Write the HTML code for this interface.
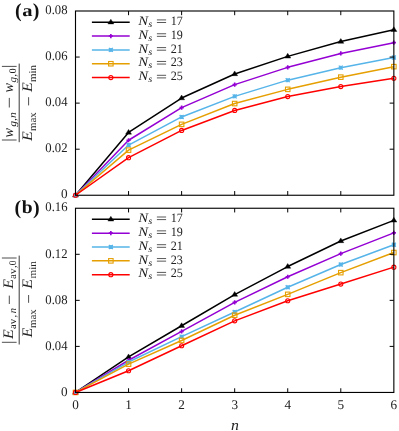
<!DOCTYPE html>
<html><head><meta charset="utf-8"><title>chart</title>
<style>html,body{margin:0;padding:0;background:#fff;}svg{display:block;will-change:transform;transform:translateZ(0);}</style>
</head><body>
<svg width="399" height="431" viewBox="0 0 399 431" font-family="'Liberation Serif', serif" fill="#222222" text-rendering="geometricPrecision">
<rect x="0" y="0" width="399" height="431" fill="#fff"/>
<polyline points="75.50,195.25 128.56,132.45 181.62,98.05 234.68,73.95 287.73,56.35 340.79,41.55 393.85,29.75" fill="none" stroke="#000000" stroke-width="1.5" stroke-linejoin="round"/>
<path d="M75.50,192.25 L78.50,196.95 L72.50,196.95 Z" fill="#000000" stroke="#000000" stroke-width="0.4" stroke-linejoin="round"/>
<path d="M128.56,129.45 L131.56,134.15 L125.56,134.15 Z" fill="#000000" stroke="#000000" stroke-width="0.4" stroke-linejoin="round"/>
<path d="M181.62,95.05 L184.62,99.75 L178.62,99.75 Z" fill="#000000" stroke="#000000" stroke-width="0.4" stroke-linejoin="round"/>
<path d="M234.68,70.95 L237.68,75.65 L231.68,75.65 Z" fill="#000000" stroke="#000000" stroke-width="0.4" stroke-linejoin="round"/>
<path d="M287.73,53.35 L290.73,58.05 L284.73,58.05 Z" fill="#000000" stroke="#000000" stroke-width="0.4" stroke-linejoin="round"/>
<path d="M340.79,38.55 L343.79,43.25 L337.79,43.25 Z" fill="#000000" stroke="#000000" stroke-width="0.4" stroke-linejoin="round"/>
<path d="M393.85,26.75 L396.85,31.45 L390.85,31.45 Z" fill="#000000" stroke="#000000" stroke-width="0.4" stroke-linejoin="round"/>
<polyline points="75.50,195.25 128.56,140.25 181.62,107.65 234.68,84.65 287.73,67.35 340.79,53.45 393.85,42.65" fill="none" stroke="#9400d3" stroke-width="1.5" stroke-linejoin="round"/>
<path d="M75.50,193.15 V197.35 M73.40,195.25 H77.60" stroke="#9400d3" stroke-width="1.6" fill="none"/>
<path d="M128.56,138.15 V142.35 M126.46,140.25 H130.66" stroke="#9400d3" stroke-width="1.6" fill="none"/>
<path d="M181.62,105.55 V109.75 M179.52,107.65 H183.72" stroke="#9400d3" stroke-width="1.6" fill="none"/>
<path d="M234.68,82.55 V86.75 M232.58,84.65 H236.78" stroke="#9400d3" stroke-width="1.6" fill="none"/>
<path d="M287.73,65.25 V69.45 M285.63,67.35 H289.83" stroke="#9400d3" stroke-width="1.6" fill="none"/>
<path d="M340.79,51.35 V55.55 M338.69,53.45 H342.89" stroke="#9400d3" stroke-width="1.6" fill="none"/>
<path d="M393.85,40.55 V44.75 M391.75,42.65 H395.95" stroke="#9400d3" stroke-width="1.6" fill="none"/>
<polyline points="75.50,195.25 128.56,145.05 181.62,116.95 234.68,96.35 287.73,80.15 340.79,67.65 393.85,57.55" fill="none" stroke="#56b4e9" stroke-width="1.5" stroke-linejoin="round"/>
<path d="M73.50,193.25 L77.50,197.25 M73.50,197.25 L77.50,193.25 M73.50,195.25 H77.50 M75.50,193.25 V197.25" stroke="#56b4e9" stroke-width="1.3" fill="none"/>
<path d="M126.56,143.05 L130.56,147.05 M126.56,147.05 L130.56,143.05 M126.56,145.05 H130.56 M128.56,143.05 V147.05" stroke="#56b4e9" stroke-width="1.3" fill="none"/>
<path d="M179.62,114.95 L183.62,118.95 M179.62,118.95 L183.62,114.95 M179.62,116.95 H183.62 M181.62,114.95 V118.95" stroke="#56b4e9" stroke-width="1.3" fill="none"/>
<path d="M232.68,94.35 L236.68,98.35 M232.68,98.35 L236.68,94.35 M232.68,96.35 H236.68 M234.68,94.35 V98.35" stroke="#56b4e9" stroke-width="1.3" fill="none"/>
<path d="M285.73,78.15 L289.73,82.15 M285.73,82.15 L289.73,78.15 M285.73,80.15 H289.73 M287.73,78.15 V82.15" stroke="#56b4e9" stroke-width="1.3" fill="none"/>
<path d="M338.79,65.65 L342.79,69.65 M338.79,69.65 L342.79,65.65 M338.79,67.65 H342.79 M340.79,65.65 V69.65" stroke="#56b4e9" stroke-width="1.3" fill="none"/>
<path d="M391.85,55.55 L395.85,59.55 M391.85,59.55 L395.85,55.55 M391.85,57.55 H395.85 M393.85,55.55 V59.55" stroke="#56b4e9" stroke-width="1.3" fill="none"/>
<polyline points="75.50,195.25 128.56,150.15 181.62,124.35 234.68,103.55 287.73,89.35 340.79,77.15 393.85,66.65" fill="none" stroke="#e69f00" stroke-width="1.5" stroke-linejoin="round"/>
<rect x="126.31" y="147.90" width="4.50" height="4.50" fill="none" stroke="#e69f00" stroke-width="1.1"/>
<rect x="179.37" y="122.10" width="4.50" height="4.50" fill="none" stroke="#e69f00" stroke-width="1.1"/>
<rect x="232.43" y="101.30" width="4.50" height="4.50" fill="none" stroke="#e69f00" stroke-width="1.1"/>
<rect x="285.48" y="87.10" width="4.50" height="4.50" fill="none" stroke="#e69f00" stroke-width="1.1"/>
<rect x="338.54" y="74.90" width="4.50" height="4.50" fill="none" stroke="#e69f00" stroke-width="1.1"/>
<rect x="391.60" y="64.40" width="4.50" height="4.50" fill="none" stroke="#e69f00" stroke-width="1.1"/>
<polyline points="75.50,195.25 128.56,157.65 181.62,130.45 234.68,110.45 287.73,96.55 340.79,86.55 393.85,78.25" fill="none" stroke="#ff0000" stroke-width="1.5" stroke-linejoin="round"/>
<circle cx="75.50" cy="195.25" r="2.05" fill="none" stroke="#ff0000" stroke-width="1.1"/>
<circle cx="128.56" cy="157.65" r="2.05" fill="none" stroke="#ff0000" stroke-width="1.1"/>
<circle cx="181.62" cy="130.45" r="2.05" fill="none" stroke="#ff0000" stroke-width="1.1"/>
<circle cx="234.68" cy="110.45" r="2.05" fill="none" stroke="#ff0000" stroke-width="1.1"/>
<circle cx="287.73" cy="96.55" r="2.05" fill="none" stroke="#ff0000" stroke-width="1.1"/>
<circle cx="340.79" cy="86.55" r="2.05" fill="none" stroke="#ff0000" stroke-width="1.1"/>
<circle cx="393.85" cy="78.25" r="2.05" fill="none" stroke="#ff0000" stroke-width="1.1"/>
<polyline points="75.50,392.45 128.56,356.95 181.62,325.75 234.68,294.55 287.73,266.55 340.79,240.95 393.85,220.35" fill="none" stroke="#000000" stroke-width="1.5" stroke-linejoin="round"/>
<path d="M75.50,389.45 L78.50,394.15 L72.50,394.15 Z" fill="#000000" stroke="#000000" stroke-width="0.4" stroke-linejoin="round"/>
<path d="M128.56,353.95 L131.56,358.65 L125.56,358.65 Z" fill="#000000" stroke="#000000" stroke-width="0.4" stroke-linejoin="round"/>
<path d="M181.62,322.75 L184.62,327.45 L178.62,327.45 Z" fill="#000000" stroke="#000000" stroke-width="0.4" stroke-linejoin="round"/>
<path d="M234.68,291.55 L237.68,296.25 L231.68,296.25 Z" fill="#000000" stroke="#000000" stroke-width="0.4" stroke-linejoin="round"/>
<path d="M287.73,263.55 L290.73,268.25 L284.73,268.25 Z" fill="#000000" stroke="#000000" stroke-width="0.4" stroke-linejoin="round"/>
<path d="M340.79,237.95 L343.79,242.65 L337.79,242.65 Z" fill="#000000" stroke="#000000" stroke-width="0.4" stroke-linejoin="round"/>
<path d="M393.85,217.35 L396.85,222.05 L390.85,222.05 Z" fill="#000000" stroke="#000000" stroke-width="0.4" stroke-linejoin="round"/>
<polyline points="75.50,392.45 128.56,360.25 181.62,331.45 234.68,302.35 287.73,276.75 340.79,253.65 393.85,232.85" fill="none" stroke="#9400d3" stroke-width="1.5" stroke-linejoin="round"/>
<path d="M75.50,390.35 V394.55 M73.40,392.45 H77.60" stroke="#9400d3" stroke-width="1.6" fill="none"/>
<path d="M128.56,358.15 V362.35 M126.46,360.25 H130.66" stroke="#9400d3" stroke-width="1.6" fill="none"/>
<path d="M181.62,329.35 V333.55 M179.52,331.45 H183.72" stroke="#9400d3" stroke-width="1.6" fill="none"/>
<path d="M234.68,300.25 V304.45 M232.58,302.35 H236.78" stroke="#9400d3" stroke-width="1.6" fill="none"/>
<path d="M287.73,274.65 V278.85 M285.63,276.75 H289.83" stroke="#9400d3" stroke-width="1.6" fill="none"/>
<path d="M340.79,251.55 V255.75 M338.69,253.65 H342.89" stroke="#9400d3" stroke-width="1.6" fill="none"/>
<path d="M393.85,230.75 V234.95 M391.75,232.85 H395.95" stroke="#9400d3" stroke-width="1.6" fill="none"/>
<polyline points="75.50,392.45 128.56,362.05 181.62,336.65 234.68,311.95 287.73,287.25 340.79,264.45 393.85,244.75" fill="none" stroke="#56b4e9" stroke-width="1.5" stroke-linejoin="round"/>
<path d="M73.50,390.45 L77.50,394.45 M73.50,394.45 L77.50,390.45 M73.50,392.45 H77.50 M75.50,390.45 V394.45" stroke="#56b4e9" stroke-width="1.3" fill="none"/>
<path d="M126.56,360.05 L130.56,364.05 M126.56,364.05 L130.56,360.05 M126.56,362.05 H130.56 M128.56,360.05 V364.05" stroke="#56b4e9" stroke-width="1.3" fill="none"/>
<path d="M179.62,334.65 L183.62,338.65 M179.62,338.65 L183.62,334.65 M179.62,336.65 H183.62 M181.62,334.65 V338.65" stroke="#56b4e9" stroke-width="1.3" fill="none"/>
<path d="M232.68,309.95 L236.68,313.95 M232.68,313.95 L236.68,309.95 M232.68,311.95 H236.68 M234.68,309.95 V313.95" stroke="#56b4e9" stroke-width="1.3" fill="none"/>
<path d="M285.73,285.25 L289.73,289.25 M285.73,289.25 L289.73,285.25 M285.73,287.25 H289.73 M287.73,285.25 V289.25" stroke="#56b4e9" stroke-width="1.3" fill="none"/>
<path d="M338.79,262.45 L342.79,266.45 M338.79,266.45 L342.79,262.45 M338.79,264.45 H342.79 M340.79,262.45 V266.45" stroke="#56b4e9" stroke-width="1.3" fill="none"/>
<path d="M391.85,242.75 L395.85,246.75 M391.85,246.75 L395.85,242.75 M391.85,244.75 H395.85 M393.85,242.75 V246.75" stroke="#56b4e9" stroke-width="1.3" fill="none"/>
<polyline points="75.50,392.45 128.56,364.15 181.62,340.45 234.68,315.25 287.73,294.35 340.79,272.65 393.85,252.55" fill="none" stroke="#e69f00" stroke-width="1.5" stroke-linejoin="round"/>
<rect x="73.25" y="390.20" width="4.50" height="4.50" fill="none" stroke="#e69f00" stroke-width="1.1"/>
<rect x="126.31" y="361.90" width="4.50" height="4.50" fill="none" stroke="#e69f00" stroke-width="1.1"/>
<rect x="179.37" y="338.20" width="4.50" height="4.50" fill="none" stroke="#e69f00" stroke-width="1.1"/>
<rect x="232.43" y="313.00" width="4.50" height="4.50" fill="none" stroke="#e69f00" stroke-width="1.1"/>
<rect x="285.48" y="292.10" width="4.50" height="4.50" fill="none" stroke="#e69f00" stroke-width="1.1"/>
<rect x="338.54" y="270.40" width="4.50" height="4.50" fill="none" stroke="#e69f00" stroke-width="1.1"/>
<rect x="391.60" y="250.30" width="4.50" height="4.50" fill="none" stroke="#e69f00" stroke-width="1.1"/>
<polyline points="75.50,392.45 128.56,370.75 181.62,345.75 234.68,320.85 287.73,300.75 340.79,284.05 393.85,267.15" fill="none" stroke="#ff0000" stroke-width="1.5" stroke-linejoin="round"/>
<circle cx="75.50" cy="392.45" r="2.05" fill="none" stroke="#ff0000" stroke-width="1.1"/>
<circle cx="128.56" cy="370.75" r="2.05" fill="none" stroke="#ff0000" stroke-width="1.1"/>
<circle cx="181.62" cy="345.75" r="2.05" fill="none" stroke="#ff0000" stroke-width="1.1"/>
<circle cx="234.68" cy="320.85" r="2.05" fill="none" stroke="#ff0000" stroke-width="1.1"/>
<circle cx="287.73" cy="300.75" r="2.05" fill="none" stroke="#ff0000" stroke-width="1.1"/>
<circle cx="340.79" cy="284.05" r="2.05" fill="none" stroke="#ff0000" stroke-width="1.1"/>
<circle cx="393.85" cy="267.15" r="2.05" fill="none" stroke="#ff0000" stroke-width="1.1"/>
<rect x="75.5" y="11.0" width="318.35" height="184.25" fill="none" stroke="#000" stroke-width="1.12"/>
<path d="M128.56,11.0 v4.2 M128.56,195.25 v-4.2 M181.62,11.0 v4.2 M181.62,195.25 v-4.2 M234.68,11.0 v4.2 M234.68,195.25 v-4.2 M287.73,11.0 v4.2 M287.73,195.25 v-4.2 M340.79,11.0 v4.2 M340.79,195.25 v-4.2 M75.5,57.06 h4.2 M393.85,57.06 h-4.2 M75.5,103.12 h4.2 M393.85,103.12 h-4.2 M75.5,149.19 h4.2 M393.85,149.19 h-4.2 " stroke="#000" stroke-width="1" fill="none"/>
<rect x="75.5" y="208.25" width="318.35" height="184.20" fill="none" stroke="#000" stroke-width="1.12"/>
<path d="M128.56,208.25 v4.2 M128.56,392.45 v-4.2 M181.62,208.25 v4.2 M181.62,392.45 v-4.2 M234.68,208.25 v4.2 M234.68,392.45 v-4.2 M287.73,208.25 v4.2 M287.73,392.45 v-4.2 M340.79,208.25 v4.2 M340.79,392.45 v-4.2 M75.5,254.30 h4.2 M393.85,254.30 h-4.2 M75.5,300.35 h4.2 M393.85,300.35 h-4.2 M75.5,346.40 h4.2 M393.85,346.40 h-4.2 " stroke="#000" stroke-width="1" fill="none"/>
<line x1="91.9" y1="22.20" x2="129.7" y2="22.20" stroke="#000000" stroke-width="1.5"/>
<path d="M110.85,19.20 L113.85,23.90 L107.85,23.90 Z" fill="#000000" stroke="#000000" stroke-width="0.4" stroke-linejoin="round"/>
<text x="138.30" y="24.90" font-size="13" font-style="italic" textLength="9.90" lengthAdjust="spacingAndGlyphs">N</text>
<text x="148.20" y="26.90" font-size="9.5" font-style="italic" textLength="4.00" lengthAdjust="spacingAndGlyphs">s</text>
<line x1="156.90" y1="19.90" x2="166.10" y2="19.90" stroke="#222222" stroke-width="0.75"/>
<line x1="156.90" y1="22.50" x2="166.10" y2="22.50" stroke="#222222" stroke-width="0.75"/>
<text x="170.70" y="24.90" font-size="12.8" textLength="12.10" lengthAdjust="spacingAndGlyphs">17</text>
<line x1="91.9" y1="36.05" x2="129.7" y2="36.05" stroke="#9400d3" stroke-width="1.5"/>
<path d="M110.85,33.95 V38.15 M108.75,36.05 H112.95" stroke="#9400d3" stroke-width="1.6" fill="none"/>
<text x="138.30" y="38.75" font-size="13" font-style="italic" textLength="9.90" lengthAdjust="spacingAndGlyphs">N</text>
<text x="148.20" y="40.75" font-size="9.5" font-style="italic" textLength="4.00" lengthAdjust="spacingAndGlyphs">s</text>
<line x1="156.90" y1="33.75" x2="166.10" y2="33.75" stroke="#222222" stroke-width="0.75"/>
<line x1="156.90" y1="36.35" x2="166.10" y2="36.35" stroke="#222222" stroke-width="0.75"/>
<text x="170.70" y="38.75" font-size="12.8" textLength="12.10" lengthAdjust="spacingAndGlyphs">19</text>
<line x1="91.9" y1="49.90" x2="129.7" y2="49.90" stroke="#56b4e9" stroke-width="1.5"/>
<path d="M108.85,47.90 L112.85,51.90 M108.85,51.90 L112.85,47.90 M108.85,49.90 H112.85 M110.85,47.90 V51.90" stroke="#56b4e9" stroke-width="1.3" fill="none"/>
<text x="138.30" y="52.60" font-size="13" font-style="italic" textLength="9.90" lengthAdjust="spacingAndGlyphs">N</text>
<text x="148.20" y="54.60" font-size="9.5" font-style="italic" textLength="4.00" lengthAdjust="spacingAndGlyphs">s</text>
<line x1="156.90" y1="47.60" x2="166.10" y2="47.60" stroke="#222222" stroke-width="0.75"/>
<line x1="156.90" y1="50.20" x2="166.10" y2="50.20" stroke="#222222" stroke-width="0.75"/>
<text x="170.70" y="52.60" font-size="12.8" textLength="12.10" lengthAdjust="spacingAndGlyphs">21</text>
<line x1="91.9" y1="63.75" x2="129.7" y2="63.75" stroke="#e69f00" stroke-width="1.5"/>
<rect x="108.60" y="61.50" width="4.50" height="4.50" fill="none" stroke="#e69f00" stroke-width="1.1"/>
<text x="138.30" y="66.45" font-size="13" font-style="italic" textLength="9.90" lengthAdjust="spacingAndGlyphs">N</text>
<text x="148.20" y="68.45" font-size="9.5" font-style="italic" textLength="4.00" lengthAdjust="spacingAndGlyphs">s</text>
<line x1="156.90" y1="61.45" x2="166.10" y2="61.45" stroke="#222222" stroke-width="0.75"/>
<line x1="156.90" y1="64.05" x2="166.10" y2="64.05" stroke="#222222" stroke-width="0.75"/>
<text x="170.70" y="66.45" font-size="12.8" textLength="12.10" lengthAdjust="spacingAndGlyphs">23</text>
<line x1="91.9" y1="77.60" x2="129.7" y2="77.60" stroke="#ff0000" stroke-width="1.5"/>
<circle cx="110.85" cy="77.60" r="2.05" fill="none" stroke="#ff0000" stroke-width="1.1"/>
<text x="138.30" y="80.30" font-size="13" font-style="italic" textLength="9.90" lengthAdjust="spacingAndGlyphs">N</text>
<text x="148.20" y="82.30" font-size="9.5" font-style="italic" textLength="4.00" lengthAdjust="spacingAndGlyphs">s</text>
<line x1="156.90" y1="75.30" x2="166.10" y2="75.30" stroke="#222222" stroke-width="0.75"/>
<line x1="156.90" y1="77.90" x2="166.10" y2="77.90" stroke="#222222" stroke-width="0.75"/>
<text x="170.70" y="80.30" font-size="12.8" textLength="12.10" lengthAdjust="spacingAndGlyphs">25</text>
<line x1="91.9" y1="219.30" x2="129.7" y2="219.30" stroke="#000000" stroke-width="1.5"/>
<path d="M110.85,216.30 L113.85,221.00 L107.85,221.00 Z" fill="#000000" stroke="#000000" stroke-width="0.4" stroke-linejoin="round"/>
<text x="138.30" y="222.00" font-size="13" font-style="italic" textLength="9.90" lengthAdjust="spacingAndGlyphs">N</text>
<text x="148.20" y="224.00" font-size="9.5" font-style="italic" textLength="4.00" lengthAdjust="spacingAndGlyphs">s</text>
<line x1="156.90" y1="217.00" x2="166.10" y2="217.00" stroke="#222222" stroke-width="0.75"/>
<line x1="156.90" y1="219.60" x2="166.10" y2="219.60" stroke="#222222" stroke-width="0.75"/>
<text x="170.70" y="222.00" font-size="12.8" textLength="12.10" lengthAdjust="spacingAndGlyphs">17</text>
<line x1="91.9" y1="233.15" x2="129.7" y2="233.15" stroke="#9400d3" stroke-width="1.5"/>
<path d="M110.85,231.05 V235.25 M108.75,233.15 H112.95" stroke="#9400d3" stroke-width="1.6" fill="none"/>
<text x="138.30" y="235.85" font-size="13" font-style="italic" textLength="9.90" lengthAdjust="spacingAndGlyphs">N</text>
<text x="148.20" y="237.85" font-size="9.5" font-style="italic" textLength="4.00" lengthAdjust="spacingAndGlyphs">s</text>
<line x1="156.90" y1="230.85" x2="166.10" y2="230.85" stroke="#222222" stroke-width="0.75"/>
<line x1="156.90" y1="233.45" x2="166.10" y2="233.45" stroke="#222222" stroke-width="0.75"/>
<text x="170.70" y="235.85" font-size="12.8" textLength="12.10" lengthAdjust="spacingAndGlyphs">19</text>
<line x1="91.9" y1="247.00" x2="129.7" y2="247.00" stroke="#56b4e9" stroke-width="1.5"/>
<path d="M108.85,245.00 L112.85,249.00 M108.85,249.00 L112.85,245.00 M108.85,247.00 H112.85 M110.85,245.00 V249.00" stroke="#56b4e9" stroke-width="1.3" fill="none"/>
<text x="138.30" y="249.70" font-size="13" font-style="italic" textLength="9.90" lengthAdjust="spacingAndGlyphs">N</text>
<text x="148.20" y="251.70" font-size="9.5" font-style="italic" textLength="4.00" lengthAdjust="spacingAndGlyphs">s</text>
<line x1="156.90" y1="244.70" x2="166.10" y2="244.70" stroke="#222222" stroke-width="0.75"/>
<line x1="156.90" y1="247.30" x2="166.10" y2="247.30" stroke="#222222" stroke-width="0.75"/>
<text x="170.70" y="249.70" font-size="12.8" textLength="12.10" lengthAdjust="spacingAndGlyphs">21</text>
<line x1="91.9" y1="260.85" x2="129.7" y2="260.85" stroke="#e69f00" stroke-width="1.5"/>
<rect x="108.60" y="258.60" width="4.50" height="4.50" fill="none" stroke="#e69f00" stroke-width="1.1"/>
<text x="138.30" y="263.55" font-size="13" font-style="italic" textLength="9.90" lengthAdjust="spacingAndGlyphs">N</text>
<text x="148.20" y="265.55" font-size="9.5" font-style="italic" textLength="4.00" lengthAdjust="spacingAndGlyphs">s</text>
<line x1="156.90" y1="258.55" x2="166.10" y2="258.55" stroke="#222222" stroke-width="0.75"/>
<line x1="156.90" y1="261.15" x2="166.10" y2="261.15" stroke="#222222" stroke-width="0.75"/>
<text x="170.70" y="263.55" font-size="12.8" textLength="12.10" lengthAdjust="spacingAndGlyphs">23</text>
<line x1="91.9" y1="274.70" x2="129.7" y2="274.70" stroke="#ff0000" stroke-width="1.5"/>
<circle cx="110.85" cy="274.70" r="2.05" fill="none" stroke="#ff0000" stroke-width="1.1"/>
<text x="138.30" y="277.40" font-size="13" font-style="italic" textLength="9.90" lengthAdjust="spacingAndGlyphs">N</text>
<text x="148.20" y="279.40" font-size="9.5" font-style="italic" textLength="4.00" lengthAdjust="spacingAndGlyphs">s</text>
<line x1="156.90" y1="272.40" x2="166.10" y2="272.40" stroke="#222222" stroke-width="0.75"/>
<line x1="156.90" y1="275.00" x2="166.10" y2="275.00" stroke="#222222" stroke-width="0.75"/>
<text x="170.70" y="277.40" font-size="12.8" textLength="12.10" lengthAdjust="spacingAndGlyphs">25</text>
<text x="67.5" y="14.20" text-anchor="end" font-size="13.2" textLength="22.2" lengthAdjust="spacingAndGlyphs">0.08</text>
<text x="67.5" y="60.26" text-anchor="end" font-size="13.2" textLength="22.2" lengthAdjust="spacingAndGlyphs">0.06</text>
<text x="67.5" y="106.33" text-anchor="end" font-size="13.2" textLength="22.2" lengthAdjust="spacingAndGlyphs">0.04</text>
<text x="67.5" y="152.39" text-anchor="end" font-size="13.2" textLength="22.2" lengthAdjust="spacingAndGlyphs">0.02</text>
<text x="67.5" y="198.45" text-anchor="end" font-size="13.2">0</text>
<text x="67.5" y="211.45" text-anchor="end" font-size="13.2" textLength="22.2" lengthAdjust="spacingAndGlyphs">0.16</text>
<text x="67.5" y="257.50" text-anchor="end" font-size="13.2" textLength="22.2" lengthAdjust="spacingAndGlyphs">0.12</text>
<text x="67.5" y="303.55" text-anchor="end" font-size="13.2" textLength="22.2" lengthAdjust="spacingAndGlyphs">0.08</text>
<text x="67.5" y="349.60" text-anchor="end" font-size="13.2" textLength="22.2" lengthAdjust="spacingAndGlyphs">0.04</text>
<text x="67.5" y="395.65" text-anchor="end" font-size="13.2">0</text>
<text x="75.50" y="409.4" text-anchor="middle" font-size="13.2">0</text>
<text x="128.56" y="409.4" text-anchor="middle" font-size="13.2">1</text>
<text x="181.62" y="409.4" text-anchor="middle" font-size="13.2">2</text>
<text x="234.68" y="409.4" text-anchor="middle" font-size="13.2">3</text>
<text x="287.73" y="409.4" text-anchor="middle" font-size="13.2">4</text>
<text x="340.79" y="409.4" text-anchor="middle" font-size="13.2">5</text>
<text x="393.85" y="409.4" text-anchor="middle" font-size="13.2">6</text>
<text x="230.90" y="429.50" font-size="15" font-style="italic" textLength="7.90" lengthAdjust="spacingAndGlyphs">n</text>
<g font-weight="bold" fill="#111"><text x="14.9" y="16.5" font-size="20">(</text><text x="22.2" y="15.95" font-size="16.8" textLength="10.3" lengthAdjust="spacingAndGlyphs">a</text><text x="32.8" y="16.5" font-size="20">)</text></g>
<g font-weight="bold" fill="#111"><text x="14.5" y="213.7" font-size="20">(</text><text x="21.7" y="213.15" font-size="18.3" textLength="10.9" lengthAdjust="spacingAndGlyphs">b</text><text x="33.1" y="213.7" font-size="20">)</text></g>
<g transform="translate(0,102.8) rotate(-90)">
<line x1="-39.40" y1="19.20" x2="39.20" y2="19.20" stroke="#222222" stroke-width="0.9"/>
<line x1="-37.20" y1="1.90" x2="-37.20" y2="16.60" stroke="#222222" stroke-width="0.8"/>
<text x="-34.60" y="13.20" font-size="14.5" font-style="italic" textLength="9.50" lengthAdjust="spacingAndGlyphs">w</text>
<text x="-24.00" y="16.30" font-size="10.3" font-style="italic" textLength="14.60" lengthAdjust="spacingAndGlyphs">g,n</text>
<line x1="-4.70" y1="9.30" x2="4.90" y2="9.30" stroke="#222222" stroke-width="0.8"/>
<text x="10.20" y="13.20" font-size="14.5" font-style="italic" textLength="9.50" lengthAdjust="spacingAndGlyphs">w</text>
<text x="20.40" y="16.30" font-size="10.3" font-style="italic" textLength="8.40" lengthAdjust="spacingAndGlyphs">g,</text>
<text x="29.60" y="16.30" font-size="10.3" textLength="4.80" lengthAdjust="spacingAndGlyphs">0</text>
<line x1="36.40" y1="1.90" x2="36.40" y2="16.60" stroke="#222222" stroke-width="0.8"/>
<text x="-38.20" y="32.40" font-size="14.5" font-style="italic" textLength="9.80" lengthAdjust="spacingAndGlyphs">E</text>
<text x="-28.20" y="36.00" font-size="10.3" textLength="18.60" lengthAdjust="spacingAndGlyphs">max</text>
<line x1="-2.60" y1="28.60" x2="5.60" y2="28.60" stroke="#222222" stroke-width="0.8"/>
<text x="10.80" y="32.40" font-size="14.5" font-style="italic" textLength="9.80" lengthAdjust="spacingAndGlyphs">E</text>
<text x="20.90" y="36.00" font-size="10.3" textLength="17.00" lengthAdjust="spacingAndGlyphs">min</text>
</g>
<g transform="translate(0,300.5) rotate(-90)">
<line x1="-44.00" y1="19.20" x2="44.90" y2="19.20" stroke="#222222" stroke-width="0.9"/>
<line x1="-41.80" y1="1.90" x2="-41.80" y2="16.60" stroke="#222222" stroke-width="0.8"/>
<text x="-38.60" y="12.90" font-size="14.5" font-style="italic" textLength="9.80" lengthAdjust="spacingAndGlyphs">E</text>
<text x="-28.40" y="16.40" font-size="10.3" textLength="10.10" lengthAdjust="spacingAndGlyphs">av</text>
<text x="-17.00" y="16.40" font-size="10.3" font-style="italic">,</text>
<text x="-12.70" y="16.40" font-size="10.3" font-style="italic" textLength="5.20" lengthAdjust="spacingAndGlyphs">n</text>
<line x1="-3.50" y1="9.30" x2="4.90" y2="9.30" stroke="#222222" stroke-width="0.8"/>
<text x="11.80" y="12.90" font-size="14.5" font-style="italic" textLength="9.80" lengthAdjust="spacingAndGlyphs">E</text>
<text x="21.60" y="16.40" font-size="10.3" textLength="10.30" lengthAdjust="spacingAndGlyphs">av</text>
<text x="32.60" y="16.40" font-size="10.3" font-style="italic">,</text>
<text x="35.20" y="16.40" font-size="10.3" textLength="4.60" lengthAdjust="spacingAndGlyphs">0</text>
<line x1="42.50" y1="1.90" x2="42.50" y2="16.60" stroke="#222222" stroke-width="0.8"/>
<text x="-37.00" y="32.40" font-size="14.5" font-style="italic" textLength="9.80" lengthAdjust="spacingAndGlyphs">E</text>
<text x="-27.40" y="36.00" font-size="10.3" textLength="18.60" lengthAdjust="spacingAndGlyphs">max</text>
<line x1="-2.30" y1="28.60" x2="5.50" y2="28.60" stroke="#222222" stroke-width="0.8"/>
<text x="11.80" y="32.40" font-size="14.5" font-style="italic" textLength="9.80" lengthAdjust="spacingAndGlyphs">E</text>
<text x="22.00" y="36.00" font-size="10.3" textLength="17.40" lengthAdjust="spacingAndGlyphs">min</text>
</g>
</svg>
</body></html>
